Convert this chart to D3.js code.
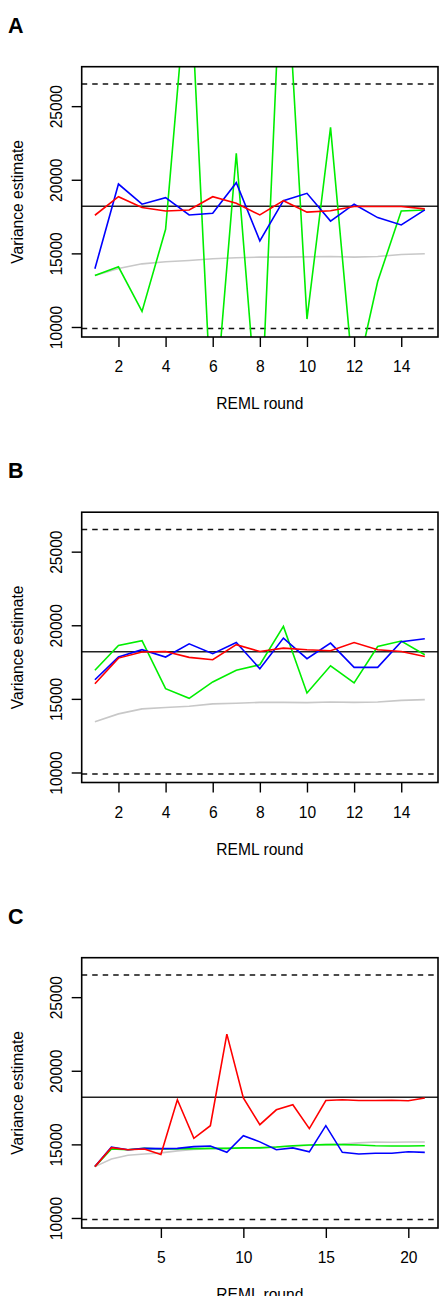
<!DOCTYPE html>
<html>
<head>
<meta charset="utf-8">
<script src="https://cdn.jsdelivr.net/npm/d3@7"></script>
<style>
  body { margin: 0; background: #fff; }
  svg { display: block; }
  text { font-family: "Liberation Sans", Arial, Helvetica, sans-serif; }
</style>
</head>
<body>
<div id="chart"></div>
<script>
// REML rounds
const roundsAB = d3.range(1, 16);
const roundsC = d3.range(1, 22);

// reference lines
const trueValue = 18200;
const upperBound = 26500;
const lowerBound = 9900;

// panel A
const greyA = [13500, 13970, 14290, 14430, 14515, 14630, 14700, 14745, 14745, 14760, 14790, 14745, 14790, 14920, 14970];
const greenA = [13500, 14090, 11060, 16640, 35300, 2500, 21800, 1900, 38400, 10540, 23560, 5900, 13090, 17880, 17950];
const blueA = [13950, 19710, 18340, 18780, 17610, 17730, 19800, 15850, 18580, 19080, 17190, 18340, 17430, 16930, 17950];
const redA = [17590, 18850, 18110, 17880, 17950, 18850, 18400, 17610, 18580, 17800, 17900, 18180, 18180, 18180, 18020];

// panel B
const greyB = [13440, 13980, 14320, 14410, 14500, 14660, 14700, 14765, 14765, 14745, 14790, 14765, 14790, 14900, 14950];
const greenB = [16940, 18630, 18950, 15690, 15040, 16150, 16940, 17320, 19920, 15400, 17250, 16080, 18560, 18930, 18000];
const blueB = [16300, 17840, 18340, 17840, 18740, 18070, 18830, 17050, 19130, 17730, 18790, 17140, 17140, 18880, 19080];
const redB = [16030, 17770, 18180, 18220, 17820, 17660, 18680, 18220, 18450, 18340, 18270, 18830, 18340, 18220, 17880];

// panel C
const greyC = [13490, 14010, 14260, 14350, 14420, 14560, 14650, 14700, 14730, 14750, 14780, 14820, 14880, 14940, 14980, 15020, 15100, 15165, 15140, 15165, 15165];
const greenC = [13490, 14690, 14640, 14730, 14690, 14690, 14710, 14730, 14730, 14760, 14760, 14820, 14910, 14960, 14980, 14980, 14960, 14910, 14890, 14890, 14910];
const blueC = [13490, 14820, 14640, 14730, 14710, 14730, 14850, 14890, 14460, 15590, 15170, 14640, 14760, 14490, 16270, 14460, 14350, 14400, 14400, 14500, 14460];
const redC = [13490, 14780, 14640, 14690, 14320, 18030, 15410, 16270, 22490, 18150, 16340, 17350, 17690, 16070, 17980, 18030, 17980, 17980, 18000, 17960, 18150];

const yTicks = [10000, 15000, 20000, 25000];
const xTicksAB = [2, 4, 6, 8, 10, 12, 14];
const xTicksC = [5, 10, 15, 20];
const yLim = [10000, 27000];

const panels = [
  { letter: "A", rounds: roundsAB, ticks: xTicksAB, series: [greyA, greenA, blueA, redA] },
  { letter: "B", rounds: roundsAB, ticks: xTicksAB, series: [greyB, greenB, blueB, redB] },
  { letter: "C", rounds: roundsC, ticks: xTicksC, series: [greyC, greenC, blueC, redC] }
];
const colors = ["#c8c8c8", "#00ee00", "#0000ff", "#ff0000"];

const width = 445;
const height = 1296;
const panelH = 445.5;
const mLeft = 81.7, mRight = 438, mTop = 66.7, mBottom = 337;

// R style axis extension, 4% each side
function ext(lo, hi) {
  const d = (hi - lo) * 0.04;
  return [lo - d, hi + d];
}

const svg = d3.select("#chart")
  .append("svg")
  .attr("width", width)
  .attr("height", height)
  .attr("viewBox", [0, 0, width, height]);

svg.append("defs").append("clipPath")
  .attr("id", "plotclip")
  .append("rect")
  .attr("x", mLeft).attr("y", mTop)
  .attr("width", mRight - mLeft).attr("height", mBottom - mTop);

panels.forEach((p, i) => {
  const g = svg.append("g").attr("transform", `translate(0,${i * panelH})`);

  const x = d3.scaleLinear()
    .domain(ext(1, d3.max(p.rounds)))
    .range([mLeft, mRight]);
  const y = d3.scaleLinear()
    .domain(ext(yLim[0], yLim[1]))
    .range([mBottom, mTop]);

  const plot = g.append("g").attr("clip-path", "url(#plotclip)");

  // dashed bounds
  plot.selectAll(".bound")
    .data([upperBound, lowerBound])
    .join("line")
    .attr("x1", mLeft).attr("x2", mRight)
    .attr("y1", (d) => y(d)).attr("y2", (d) => y(d))
    .attr("stroke", "#111")
    .attr("stroke-width", 1.5)
    .attr("stroke-dasharray", "5.5,5");

  // true value
  plot.append("line")
    .attr("x1", mLeft).attr("x2", mRight)
    .attr("y1", y(trueValue)).attr("y2", y(trueValue))
    .attr("stroke", "#222")
    .attr("stroke-width", 1.5);

  const line = d3.line()
    .x((d, j) => x(p.rounds[j]))
    .y((d) => y(d));

  plot.selectAll(".series")
    .data(p.series)
    .join("path")
    .attr("fill", "none")
    .attr("stroke", (d, j) => colors[j])
    .attr("stroke-width", 1.6)
    .attr("d", line);

  // box
  g.append("rect")
    .attr("x", mLeft).attr("y", mTop)
    .attr("width", mRight - mLeft).attr("height", mBottom - mTop)
    .attr("fill", "none")
    .attr("stroke", "#000")
    .attr("stroke-width", 1.6);

  // x axis
  const xa = g.append("g")
    .attr("transform", `translate(0,${mBottom})`)
    .call(d3.axisBottom(x).tickValues(p.ticks).tickSize(10).tickFormat(d3.format("d")));
  xa.select(".domain").remove();
  xa.selectAll(".tick line").attr("stroke", "#000").attr("stroke-width", 1.4);
  xa.selectAll(".tick text")
    .attr("y", 35).attr("dy", 0)
    .attr("fill", "#000")
    .style("font-size", "15.6px");

  // y axis
  const ya = g.append("g")
    .attr("transform", `translate(${mLeft},0)`)
    .call(d3.axisLeft(y).tickValues(yTicks).tickSize(10).tickFormat(d3.format("d")));
  ya.select(".domain").remove();
  ya.selectAll(".tick line").attr("stroke", "#000").attr("stroke-width", 1.4);
  ya.selectAll(".tick text")
    .attr("transform", "rotate(-90)")
    .attr("x", 0).attr("y", -19.8).attr("dy", 0)
    .attr("text-anchor", "middle")
    .attr("fill", "#000")
    .style("font-size", "15.6px");

  // axis titles
  g.append("text")
    .attr("x", (mLeft + mRight) / 2)
    .attr("y", mBottom + 72.4)
    .attr("text-anchor", "middle")
    .style("font-size", "15.6px")
    .text("REML round");

  g.append("text")
    .attr("transform", `translate(22.7,${(mTop + mBottom) / 2}) rotate(-90)`)
    .attr("text-anchor", "middle")
    .style("font-size", "15.6px")
    .text("Variance estimate");

  // panel letter
  g.append("text")
    .attr("x", 8)
    .attr("y", 32.7)
    .style("font-size", "21.5px")
    .style("font-weight", "bold")
    .text(p.letter);
});
</script>
</body>
</html>
